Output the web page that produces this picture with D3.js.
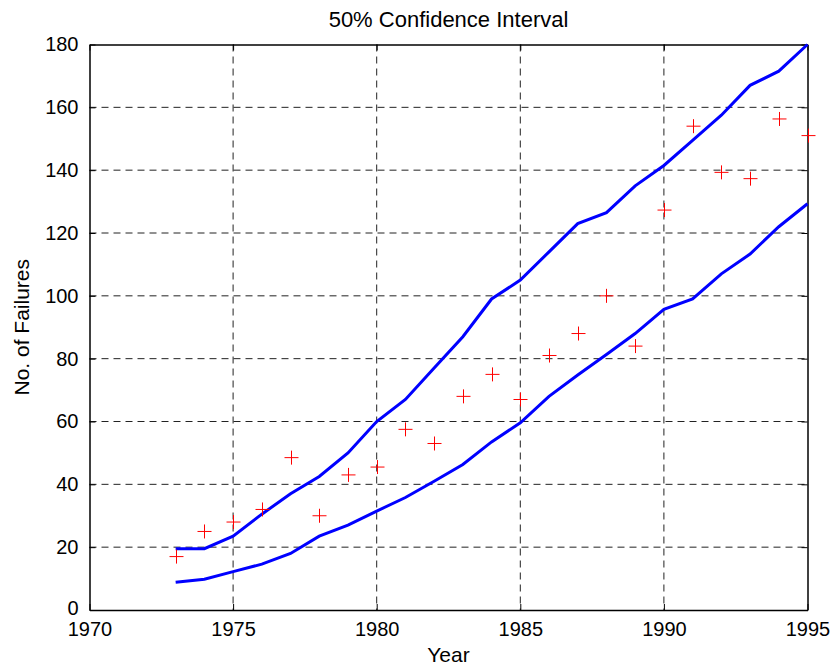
<!DOCTYPE html>
<html>
<head>
<meta charset="utf-8">
<script src="https://cdn.jsdelivr.net/npm/d3@7"></script>
<style>
  body { margin: 0; background: #fff; }
  text { font-family: "Liberation Sans", Arial, sans-serif; fill: #000; }
</style>
</head>
<body>
<div id="app"></div>
<script>
// data
var years = d3.range(1973, 1996)
var upper = [19.5, 19.5, 23.5, 30.5, 37, 42.5, 50, 60, 67, 77, 87, 99, 105, 114, 123, 126.5, 135, 141.5, 149.5, 157.5, 167, 171.5, 180]
var lower = [8.8, 9.8, 12.2, 14.6, 18, 23.5, 27, 31.5, 35.8, 41, 46.3, 53.5, 59.6, 68, 74.8, 81.3, 88, 95.7, 99, 107, 113.3, 122, 129.3]
var observed = [17, 25, 28, 32, 48.5, 30, 43, 45.5, 57.5, 53, 68, 75, 67, 81, 88, 100, 84, 127.3, 154, 139.3, 137.3, 156.3, 151]
var xTicks = [1970, 1975, 1980, 1985, 1990, 1995]
var yTicks = [0, 20, 40, 60, 80, 100, 120, 140, 160, 180]

var width = 835, height = 667
var margin = { top: 44.5, right: 27.5, bottom: 57, left: 89.5 }
var w = width - margin.left - margin.right
var h = height - margin.top - margin.bottom

var svg = d3.select("#app").append("svg")
  .attr("width", width)
  .attr("height", height)

var g = svg.append("g")
  .attr("transform", "translate(" + margin.left + "," + margin.top + ")")

var x = d3.scaleLinear().domain([1970, 1995]).range([0, w])
var y = d3.scaleLinear().domain([0, 180]).range([h, 0])

// grid
g.selectAll(".vgrid")
  .data(xTicks.slice(1, -1))
  .enter().append("line")
  .attr("x1", d => x(d)).attr("x2", d => x(d))
  .attr("y1", 0).attr("y2", h)
  .attr("stroke", "#222").attr("stroke-width", 1)
  .attr("stroke-dasharray", "7,5")

g.selectAll(".hgrid")
  .data(yTicks.slice(1, -1))
  .enter().append("line")
  .attr("x1", 0).attr("x2", w)
  .attr("y1", d => y(d)).attr("y2", d => y(d))
  .attr("stroke", "#222").attr("stroke-width", 1)
  .attr("stroke-dasharray", "7,5")

// axes (ticks inward, MATLAB style)
var xAxis = g.append("g")
  .attr("transform", "translate(0," + h + ")")
  .call(d3.axisBottom(x).tickValues(xTicks).tickFormat(d3.format("d")).tickSizeInner(-6).tickSizeOuter(0).tickPadding(12))
var xAxisTop = g.append("g")
  .call(d3.axisTop(x).tickValues(xTicks).tickFormat("").tickSizeInner(-6).tickSizeOuter(0))
var yAxis = g.append("g")
  .call(d3.axisLeft(y).tickValues(yTicks).tickSizeInner(-6).tickSizeOuter(0).tickPadding(11))
var yAxisRight = g.append("g")
  .attr("transform", "translate(" + w + ",0)")
  .call(d3.axisRight(y).tickValues(yTicks).tickFormat("").tickSizeInner(-6).tickSizeOuter(0))

svg.selectAll(".domain").attr("stroke", "#000").attr("stroke-width", 1.5)
svg.selectAll(".tick line").attr("stroke", "#000")
svg.selectAll(".tick text")
  .style("font-size", "20px")
  .style("font-family", "'Liberation Sans', Arial, sans-serif")
  .attr("fill", "#000")
// nudge the "0" label up a little so it does not touch "1970"
yAxis.selectAll(".tick text").filter(d => d === 0).attr("dy", "0.2em")

// bounds lines
var line = d3.line()
  .x((d, i) => x(years[i]))
  .y(d => y(d))

g.append("path").datum(upper)
  .attr("d", line).attr("fill", "none")
  .attr("stroke", "#0000ff").attr("stroke-width", 3)
g.append("path").datum(lower)
  .attr("d", line).attr("fill", "none")
  .attr("stroke", "#0000ff").attr("stroke-width", 3)

// observed points as plus markers
var s = 7
var pts = g.selectAll(".pt")
  .data(observed)
  .enter().append("path")
  .attr("d", (d, i) => {
    var px = Math.round(x(years[i]) + margin.left) - margin.left + 0.5, py = y(d)
    return "M" + (px - s) + "," + py + "H" + (px + s) + "M" + px + "," + (py - s) + "V" + (py + s)
  })
  .attr("stroke", "#ff0000").attr("stroke-width", 1).attr("fill", "none")

// labels
svg.append("text")
  .attr("x", margin.left + w / 2).attr("y", 27)
  .attr("text-anchor", "middle")
  .style("font-size", "22px")
  .text("50% Confidence Interval")

svg.append("text")
  .attr("x", margin.left + w / 2).attr("y", 662)
  .attr("text-anchor", "middle")
  .style("font-size", "21px")
  .text("Year")

svg.append("text")
  .attr("transform", "translate(29," + (margin.top + h / 2) + ") rotate(-90)")
  .attr("text-anchor", "middle")
  .style("font-size", "21px")
  .text("No. of Failures")
</script>
</body>
</html>
